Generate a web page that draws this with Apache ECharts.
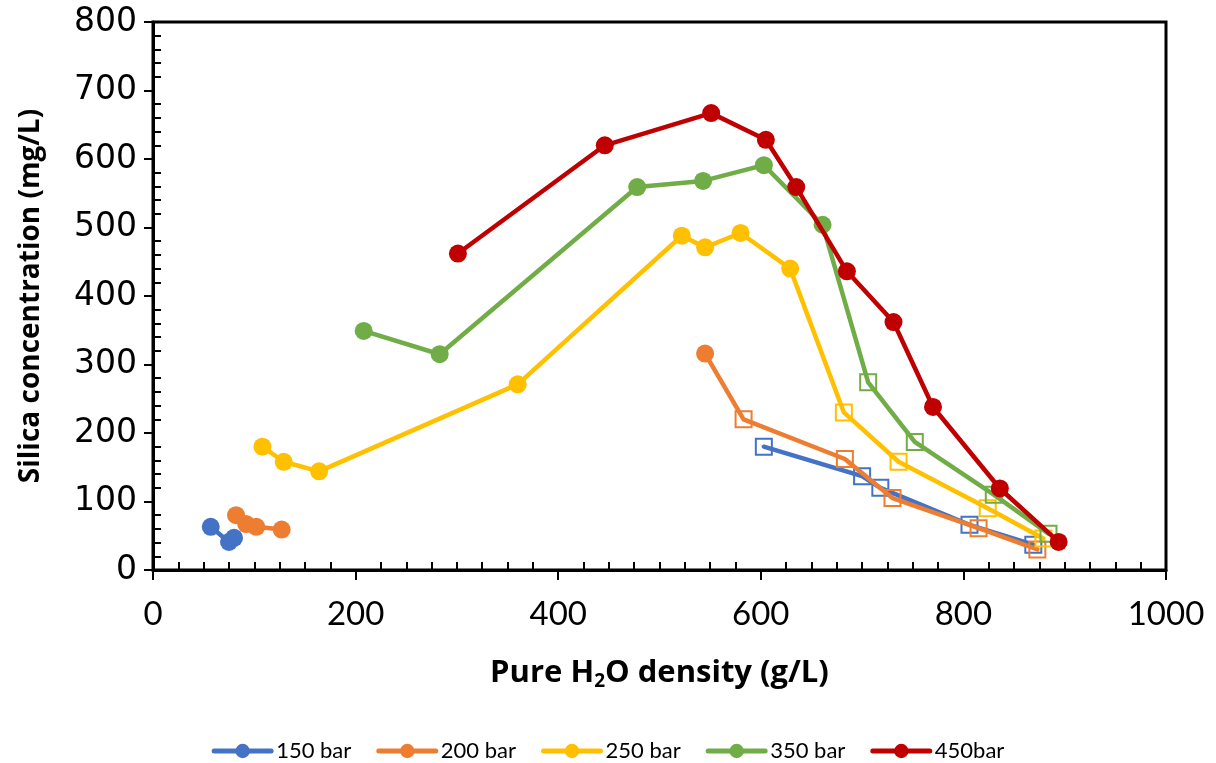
<!DOCTYPE html>
<html>
<head>
<meta charset="utf-8">
<script src="https://cdn.jsdelivr.net/npm/echarts@6/dist/echarts.min.js"></script>
<style>
  html, body { margin: 0; padding: 0; background: #fff; }
  #chart { width: 1216px; height: 763px; }
</style>
</head>
<body>
<div id="chart"></div>
<script>
// Silica concentration vs. pure water density, one curve per pressure.
// Filled circles and hollow squares mark the two kinds of measurement points;
// each "run" below is drawn as one connected polyline.

const pressureNames = ['150 bar', '200 bar', '250 bar', '350 bar', '450bar'];
const pressureColors = ['#4472C4', '#ED7D31', '#FFC000', '#70AD47', '#C00000'];

// [density g/L, silica mg/L]
const circles150a = [[57, 63], [75, 41], [80, 47]];
const squares150b = [[603, 180], [700, 137], [718, 120], [806, 66], [869, 37]];

const circles200a = [[82, 80], [92, 67], [102, 63], [127, 59]];
const circles200b = [[545, 316]];
const squares200b = [[583, 220], [683, 162], [730, 105], [815, 61], [873, 30]];

const circles250 = [[108, 180], [129, 158], [164, 144], [360, 271], [522, 488], [545, 471], [580, 492], [629, 440]];
const squares250 = [[682, 230], [736, 158], [824, 90], [879, 46]];

const circles350 = [[208, 349], [283, 315], [478, 559], [543, 568], [603, 591], [661, 504]];
const squares350 = [[706, 274], [752, 187], [830, 110], [884, 53]];

const circles450 = [[301, 462], [446, 620], [551, 667], [605, 628], [635, 559], [685, 436], [731, 362], [770, 238], [836, 119], [894, 41]];
const squares450 = [];

// Runs per pressure: each run is [circle points, square points], drawn as one line
const runs = [
  [[circles150a, []], [[], squares150b]],
  [[circles200a, []], [circles200b, squares200b]],
  [[circles250, squares250]],
  [[circles350, squares350]],
  [[circles450, squares450]]
];

const xTicks = { min: 0, max: 1000, interval: 200 };
const yTicks = { min: 0, max: 800, interval: 100 };

function buildRunData(circ, sq, color) {
  const data = circ.map(p => ({ value: p }));
  sq.forEach(p => data.push({
    value: p,
    symbol: 'rect',
    symbolSize: 16,
    itemStyle: { color: 'rgba(255,255,255,0)', borderColor: color, borderWidth: 2 }
  }));
  return data;
}

const series = [];
runs.forEach((runList, i) => {
  const color = pressureColors[i];
  runList.forEach(([circ, sq]) => {
    series.push({
      name: pressureNames[i],
      type: 'line',
      data: buildRunData(circ, sq, color),
      symbol: 'circle',
      symbolSize: 18,
      showAllSymbol: true,
      clip: false,
      color: color,
      lineStyle: { color: color, width: 4.5, cap: 'round', join: 'round' },
      itemStyle: { color: color, borderWidth: 0 },
      emphasis: { disabled: true },
      z: 2 + i
    });
  });
});

const chart = echarts.init(document.getElementById('chart'), null, { renderer: 'canvas' });

const tickFont = 'Lato';

chart.setOption({
  animation: false,
  backgroundColor: '#fff',
  grid: {
    left: 153, right: 50, top: 22, bottom: 193,
    show: true, borderColor: '#000', borderWidth: 3, backgroundColor: 'transparent'
  },
  legend: {
    data: pressureNames,
    top: 735,
    left: 'center',
    itemWidth: 57,
    itemHeight: 18,
    itemGap: 25,
    lineStyle: { width: 5 },
    textStyle: { fontFamily: tickFont, fontSize: 22, color: '#000' }
  },
  xAxis: [
    {
      type: 'value',
      min: xTicks.min, max: xTicks.max, interval: xTicks.interval,
      position: 'bottom',
      name: 'Pure H{sub|2}O density (g/L)',
      nameLocation: 'middle',
      nameGap: 86,
      nameTextStyle: {
        fontFamily: 'Open Sans', fontWeight: 'bold', fontSize: 31, color: '#000',
        rich: { sub: { fontFamily: 'Open Sans', fontWeight: 'bold', fontSize: 19, verticalAlign: 'bottom', padding: [16, 0, 0, 0] } }
      },
      axisLine: { show: true, onZero: false, lineStyle: { color: '#000', width: 3 } },
      axisTick: { show: true, inside: false, length: 10, lineStyle: { color: '#000', width: 2 } },
      axisLabel: { fontFamily: tickFont, fontSize: 33, color: '#000', margin: 28, formatter: v => String(v) },
      splitLine: { show: false }
    },
    {
      type: 'value',
      min: xTicks.min, max: xTicks.max, interval: xTicks.interval,
      position: 'bottom',
      axisLine: { show: false },
      axisTick: { show: false, inside: true },
      minorTick: { show: true, splitNumber: 8, length: 8, lineStyle: { color: '#000', width: 2 } },
      axisLabel: { show: false },
      splitLine: { show: false }
    }
  ],
  yAxis: [
    {
      type: 'value',
      min: yTicks.min, max: yTicks.max, interval: yTicks.interval,
      position: 'left',
      name: 'Silica concentration (mg/L)',
      nameLocation: 'middle',
      nameGap: 108,
      nameTextStyle: { fontFamily: 'Open Sans', fontWeight: 'bold', fontSize: 28, color: '#000' },
      axisLine: { show: true, onZero: false, lineStyle: { color: '#000', width: 3 } },
      axisTick: { show: true, inside: false, length: 9, lineStyle: { color: '#000', width: 2 } },
      axisLabel: { fontFamily: 'DejaVu Sans', fontSize: 33, color: '#000', margin: 16, formatter: v => String(v) },
      splitLine: { show: false }
    },
    {
      type: 'value',
      min: yTicks.min, max: yTicks.max, interval: yTicks.interval,
      position: 'left',
      axisLine: { show: false },
      axisTick: { show: false, inside: true },
      minorTick: { show: true, splitNumber: 5, length: 8, lineStyle: { color: '#000', width: 2 } },
      axisLabel: { show: false },
      splitLine: { show: false }
    }
  ],
  series: series
});
</script>
</body>
</html>
